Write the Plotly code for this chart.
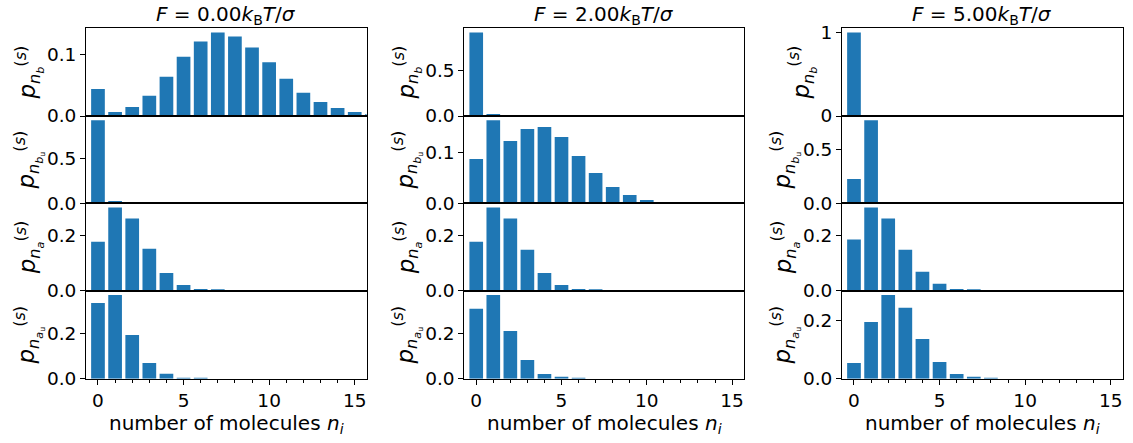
import plotly.graph_objects as go

# ---------------- data ----------------
n_values = list(range(18))

forces = ["0.00", "2.00", "5.00"]

nb_F0 = [0.044, 0.0066, 0.0148, 0.0328, 0.0639, 0.0967, 0.1213, 0.1361, 0.1295, 0.1115,
         0.0874, 0.0607, 0.0377, 0.0230, 0.0131, 0.0066, 0.0030, 0.0012]
nbu_F0 = [0.926, 0.026, 0.001]
na_F0 = [0.179, 0.304, 0.264, 0.153, 0.065, 0.021, 0.006, 0.0025, 0.0006]
nau_F0 = [0.336, 0.372, 0.194, 0.070, 0.022, 0.004, 0.001]

nb_F2 = [0.915, 0.022, 0.001]
nbu_F2 = [0.0864, 0.1623, 0.1214, 0.1448, 0.1487, 0.1292, 0.0922, 0.0591, 0.0318, 0.0162,
          0.0065, 0.0026, 0.0008]
na_F2 = [0.179, 0.304, 0.264, 0.150, 0.065, 0.021, 0.006, 0.0025, 0.0006]
nau_F2 = [0.310, 0.372, 0.212, 0.083, 0.021, 0.007, 0.001]

nb_F5 = [1.0, 0.0005]
nbu_F5 = [0.224, 0.767, 0.008]
na_F5 = [0.187, 0.304, 0.264, 0.150, 0.069, 0.025, 0.006, 0.0025, 0.0006]
nau_F5 = [0.054, 0.195, 0.2885, 0.244, 0.137, 0.0575, 0.016, 0.006, 0.001]

# rows: nb, nbu, na, nau ; columns: F = 0, 2, 5
grid = [
    [nb_F0, nb_F2, nb_F5],
    [nbu_F0, nbu_F2, nbu_F5],
    [na_F0, na_F2, na_F5],
    [nau_F0, nau_F2, nau_F5],
]

ytick_vals = [
    [[0, 0.1], [0, 0.5], [0, 1]],
    [[0, 0.5], [0, 0.1], [0, 0.5]],
    [[0, 0.2], [0, 0.2], [0, 0.2]],
    [[0, 0.2], [0, 0.2], [0, 0.2]],
]
ytick_text = [
    [["0.0", "0.1"], ["0.0", "0.5"], ["0", "1"]],
    [["0.0", "0.5"], ["0.0", "0.1"], ["0.0", "0.5"]],
    [["0.0", "0.2"], ["0.0", "0.2"], ["0.0", "0.2"]],
    [["0.0", "0.2"], ["0.0", "0.2"], ["0.0", "0.2"]],
]
xtick_vals = [0, 5, 10, 15]

row_labels = [
    "<i>p</i><sub><i>n</i><sub><i>b</i></sub></sub><sup>(<i>s</i>)</sup>",
    "<i>p</i><sub><i>n</i><sub><i>b</i><sub>u</sub></sub></sub><sup>(<i>s</i>)</sup>",
    "<i>p</i><sub><i>n</i><sub><i>a</i></sub></sub><sup>(<i>s</i>)</sup>",
    "<i>p</i><sub><i>n</i><sub><i>a</i><sub>u</sub></sub></sub><sup>(<i>s</i>)</sup>",
]
x_label = "number of molecules <i>n</i><sub><i>i</i></sub>"

# ---------------- layout geometry (pixels) ----------------
W, H = 1133, 443
col_px = [(86, 366.7), (464.3, 744), (842, 1122.7)]
row_px = [(28.3, 116), (116, 203.3), (203.3, 290.7), (290.7, 378.7)]
XRANGE = [-0.7, 15.7]

FONT = "DejaVu Sans"
BLUE = "#1f77b4"
TICK_SIZE = 18.5
LABEL_SIZE = 20
YLABEL_SIZE = 23

fig = go.Figure()
layout = dict(
    width=W, height=H,
    margin=dict(l=0, r=0, t=0, b=0),
    paper_bgcolor="white", plot_bgcolor="white",
    showlegend=False,
    font=dict(family=FONT, size=TICK_SIZE, color="black"),
    annotations=[],
)

idx = 0
for r in range(4):
    for c in range(3):
        idx += 1
        xa = "x" if idx == 1 else f"x{idx}"
        ya = "y" if idx == 1 else f"y{idx}"
        vals = grid[r][c]
        fig.add_trace(go.Bar(
            x=n_values[:len(vals)], y=vals, width=0.8,
            marker=dict(color=BLUE, line=dict(width=0)),
            xaxis=xa, yaxis=ya, hoverinfo="skip",
        ))
        x0, x1 = col_px[c]
        y0, y1 = row_px[r]
        bottom = r == 3
        xkey = "xaxis" if idx == 1 else f"xaxis{idx}"
        ykey = "yaxis" if idx == 1 else f"yaxis{idx}"
        layout[xkey] = dict(
            domain=[x0 / W, x1 / W], anchor=ya, range=XRANGE,
            showline=True, linecolor="black", linewidth=1, mirror=True,
            showgrid=False, zeroline=False, automargin=False,
            ticks="outside" if bottom else "", ticklen=5, tickwidth=1, tickcolor="black",
            tickvals=xtick_vals, showticklabels=bottom,
            tickfont=dict(family=FONT, size=TICK_SIZE),
            minor=dict(ticks="outside", dtick=1, tick0=0, ticklen=3, tickwidth=1,
                       tickcolor="black", showgrid=False) if bottom else dict(ticks=""),
        )
        layout[ykey] = dict(
            domain=[1 - y1 / H, 1 - y0 / H], anchor=xa,
            range=[0, max(vals) * 1.05],
            showline=True, linecolor="black", linewidth=1, mirror=True,
            showgrid=False, zeroline=False, automargin=False,
            ticks="outside", ticklen=5, tickwidth=1, tickcolor="black",
            tickvals=ytick_vals[r][c], ticktext=ytick_text[r][c],
            tickfont=dict(family=FONT, size=TICK_SIZE),
            title=dict(text=row_labels[r], font=dict(family=FONT, size=YLABEL_SIZE), standoff=4),
        )

for c in range(3):
    x0, x1 = col_px[c]
    layout["annotations"].append(dict(
        text=f"<i>F</i> = {forces[c]}<i>k</i><sub>B</sub><i>T</i>/<i>σ</i>",
        x=(x0 + x1) / 2 / W, y=1 - 15 / H, xref="paper", yref="paper",
        xanchor="center", yanchor="middle", showarrow=False,
        font=dict(family=FONT, size=LABEL_SIZE),
    ))
    layout["annotations"].append(dict(
        text=x_label,
        x=(x0 + x1) / 2 / W, y=1 - 424 / H, xref="paper", yref="paper",
        xanchor="center", yanchor="middle", showarrow=False,
        font=dict(family=FONT, size=LABEL_SIZE),
    ))

fig.update_layout(**layout)
fig.write_html(
    "out.html",
    config={"displayModeBar": False},
    post_script="document.body.style.margin='0';document.body.style.overflow='hidden';",
)
